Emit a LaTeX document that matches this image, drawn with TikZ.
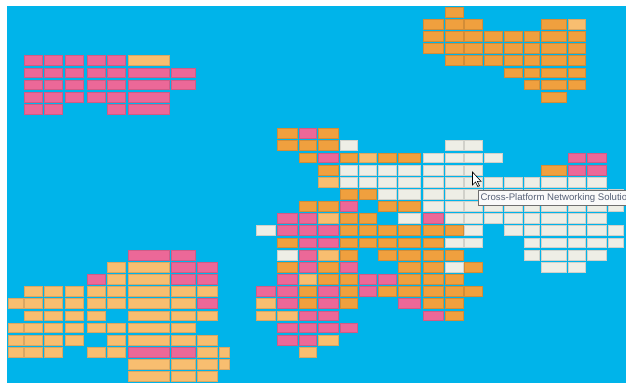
\documentclass[tikz,border=0pt]{standalone}
\usepackage{fontspec}
\setmainfont{Liberation Sans}

\definecolor{screen}{RGB}{0,180,234}
\definecolor{pk}{RGB}{236,104,152}
\definecolor{og}{RGB}{240,160,62}
\definecolor{lo}{RGB}{248,190,112}
\definecolor{wt}{RGB}{238,238,230}
\definecolor{tipline}{RGB}{110,110,110}
\definecolor{tipfill}{RGB}{250,250,250}
\definecolor{tiptext}{RGB}{88,98,120}

\tikzstyle{tile} = [line width=0.5pt]
\tikzstyle{tooltip} = [
    rectangle,
    draw=tipline,
    fill=tipfill,
    text=tiptext,
    line width=0.6pt,
    font=\fontsize{9.6}{11}\selectfont,
    inner xsep=2.5pt,
    inner ysep=0pt,
    minimum height=15pt,
    anchor=north west
]
\tikzstyle{pointer} = [fill=white, draw=black, line width=0.6pt, line join=miter]

% left edges and widths of the tile columns
\def\colx{{8.3,24,44.4,65.2,87,107.4,128.5,170.8,197.5,219.5,256,277.5,299,317.8,340,359.3,378.4,398.6,423.2,445.2,464.4,484.4,504.3,524.2,541,568,587.5,608.2}}
\def\colw{{14.5,18.7,18.3,18.2,18.2,18.3,40.5,24.9,20,10,19.6,19.3,16.8,20.5,17,17.2,18.2,21.5,20.2,18,17.6,17.6,17.6,15.2,25,17.7,18.5,15}}

% one row of tiles: #1 row number, #2 list of column/colour
\newcommand{\tilerow}[2]{%
  \foreach \c/\f in {#2}{%
    \pgfmathsetmacro\tx{\colx[\c]}%
    \pgfmathsetmacro\tw{\colw[\c]}%
    \path[tile, fill=\f, draw=\f!88!black] (\tx,{7+12.15*#1}) rectangle ++(\tw,9.8);
  }%
}

\begin{document}
\begin{tikzpicture}[x=1pt, y=-1pt]

\useasboundingbox (0,0) rectangle (626,383);
\clip (0,0) rectangle (626,383);
\fill[white] (0,0) rectangle (626,383);
\fill[screen] (7,6) rectangle (626,383);

% top right group and top left group
\tilerow{0}{19/og}
\tilerow{1}{18/og,19/og,20/og,24/og,25/lo}
\tilerow{2}{18/og,19/og,20/og,21/og,22/og,23/og,24/og,25/og}
\tilerow{3}{18/og,19/og,20/og,21/og,22/og,23/og,24/og,25/og}
\tilerow{4}{1/pk,2/pk,3/pk,4/pk,5/pk,6/lo,19/og,20/og,21/og,22/og,23/og,24/og,25/og}
\tilerow{5}{1/pk,2/pk,3/pk,4/pk,5/pk,6/pk,7/pk,22/og,23/og,24/og,25/og}
\tilerow{6}{1/pk,2/pk,3/pk,4/pk,5/pk,6/pk,7/pk,23/og,24/og,25/og}
\tilerow{7}{1/pk,2/pk,3/pk,4/pk,5/pk,6/pk,24/og}
\tilerow{8}{1/pk,2/pk,5/pk,6/pk}

% middle and right groups
\tilerow{10}{11/og,12/pk,13/og}
\tilerow{11}{11/og,12/og,13/og,14/wt,19/wt,20/wt}
\tilerow{12}{12/og,13/pk,14/og,15/lo,16/og,17/og,18/wt,19/wt,20/wt,21/wt,25/pk,26/pk}
\tilerow{13}{13/og,14/wt,15/wt,16/wt,17/wt,18/wt,19/wt,20/wt,24/og,25/pk,26/pk}
\tilerow{14}{13/lo,14/wt,15/wt,16/wt,17/wt,18/wt,19/wt,20/wt,21/wt,22/wt,23/wt,24/wt,25/wt,26/wt}
\tilerow{15}{14/og,15/og,16/wt,17/wt,18/wt,19/wt,20/wt,21/wt,22/wt,23/wt,24/wt,25/wt,26/wt,27/wt}
\tilerow{16}{12/og,13/og,14/pk,16/og,17/og,18/wt,19/wt,20/wt,21/wt,22/wt,23/wt,24/wt,25/wt,26/wt,27/wt}
\tilerow{17}{11/pk,12/pk,13/lo,14/og,15/og,17/wt,18/pk,19/wt,20/wt,21/wt,22/wt,23/wt,24/wt,25/wt,26/wt}
\tilerow{18}{10/wt,11/pk,12/pk,13/pk,14/og,15/og,16/og,17/og,18/og,19/og,20/wt,22/wt,23/wt,24/wt,25/wt,26/wt,27/wt}
\tilerow{19}{11/og,12/pk,13/pk,14/og,15/og,16/og,17/og,18/og,19/wt,20/wt,23/wt,24/wt,25/wt,26/wt,27/wt}

% lower rows, bottom left group included
\tilerow{20}{6/pk,7/pk,11/wt,12/pk,13/lo,14/og,16/og,17/og,18/og,19/og,23/wt,24/wt,25/wt,26/wt}
\tilerow{21}{5/lo,6/lo,7/pk,8/pk,11/og,12/pk,13/og,14/pk,17/og,18/og,19/wt,20/og,24/wt,25/wt}
\tilerow{22}{4/pk,5/lo,6/lo,7/pk,8/pk,11/pk,12/lo,13/og,14/og,15/pk,16/pk,17/og,18/og,19/og}
\tilerow{23}{1/lo,2/lo,3/lo,4/lo,5/lo,6/lo,7/lo,8/lo,10/pk,11/pk,12/og,13/pk,14/og,15/pk,16/og,17/og,18/og,19/og,20/og}
\tilerow{24}{0/lo,1/lo,2/lo,3/lo,4/lo,5/lo,6/lo,7/lo,8/pk,10/lo,11/pk,12/og,13/pk,14/og,17/pk,18/og,19/og}
\tilerow{25}{1/lo,2/lo,3/lo,4/lo,6/lo,7/lo,8/lo,10/lo,11/lo,12/pk,13/pk,18/pk,19/og}
\tilerow{26}{0/lo,1/lo,2/lo,3/lo,4/lo,5/lo,6/lo,7/lo,11/pk,12/pk,13/pk,14/pk}
\tilerow{27}{0/lo,1/lo,2/lo,3/lo,5/lo,6/lo,7/lo,8/lo,11/pk,12/pk,13/lo}
\tilerow{28}{0/lo,1/lo,2/lo,4/lo,5/lo,6/pk,7/pk,8/lo,9/lo,12/lo}
\tilerow{29}{6/lo,7/lo,8/lo,9/lo}
\tilerow{30}{6/lo,7/lo,8/lo}

% tooltip and mouse pointer
\node (tip) [tooltip] at (477.7,190) {Cross-Platform Networking Solution};
\draw[pointer] (472.5,172) -- ++(0,13) -- ++(3,-3) -- ++(2.3,4.5) -- ++(1.7,-0.7)
    -- ++(-2.2,-4.4) -- ++(3.8,0) -- cycle;

\end{tikzpicture}
\end{document}
